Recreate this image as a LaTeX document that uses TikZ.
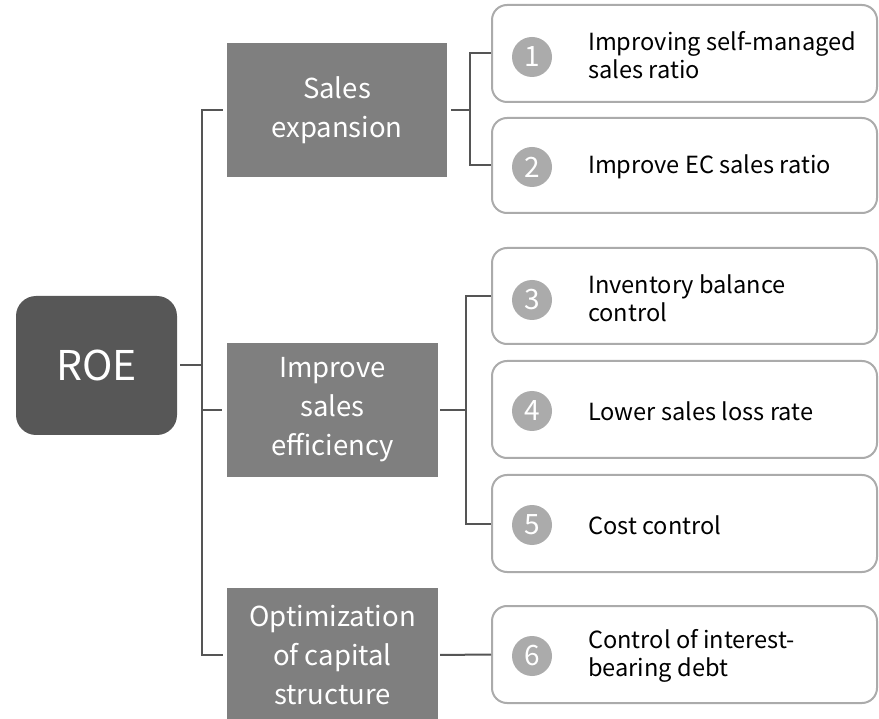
\documentclass[tikz,border=0pt]{standalone}
\usepackage{fontspec}
\setmainfont{Noto Sans CJK JP}
\definecolor{roefill}{HTML}{575757}
\definecolor{midfill}{HTML}{7F7F7F}
\definecolor{linecol}{HTML}{555555}
\definecolor{bordcol}{HTML}{ABABAB}
\definecolor{circfill}{HTML}{ABABAB}
\definecolor{txtcol}{HTML}{000000}
\tikzset{
  roebox/.style={fill=roefill, rounded corners=20pt, minimum width=161pt, minimum height=139pt, text=white, font=\fontsize{41}{43}\selectfont, inner sep=0pt},
  midbox/.style={fill=midfill, minimum width=#1, minimum height=134pt, text=white, align=center, font=\fontsize{27.5}{39}\selectfont, inner sep=0pt},
  itembox/.style={draw=bordcol, line width=2pt, rounded corners=15pt, fill=white, minimum width=385pt, minimum height=#1, inner sep=0pt},
  numcirc/.style={circle, fill=circfill, minimum size=40pt, inner sep=0pt, text=white, font=\fontsize{28}{28}\selectfont},
  itemtext/.style={anchor=west, align=left, text=txtcol, font=\fontsize{23.6}{28}\selectfont, inner sep=0pt},
  conn/.style={draw=linecol, line width=2pt},
}
\begin{document}
\begin{tikzpicture}[x=1pt,y=-1pt]
\useasboundingbox (0,0) rectangle (879,719);
\begin{scope}
\clip (0,0) rectangle (879,719);
% main nodes
\node[roebox] (roe) at (96.5,365.5) {ROE};
\node[midbox=220pt] (sales) at (337,110) {Sales\\expansion};
\node[midbox=211pt] (improve) at (332.5,410) {Improve\\sales\\efficiency};
\node[midbox=211pt] (optim) at (332.5,655) {Optimization\\of capital\\structure};
% item boxes
\node[itembox=97pt] (b1) at (684.5,53.5) {};
\node[itembox=95pt] (b2) at (684.5,165.5) {};
\node[itembox=96pt] (b3) at (684.5,296) {};
\node[itembox=97pt] (b4) at (684.5,409.5) {};
\node[itembox=97pt] (b5) at (684.5,523.5) {};
\node[itembox=97pt] (b6) at (684.5,654.5) {};
% circles
\node[numcirc] (c1) at (532,57) {1};
\node[numcirc] (c2) at (532,167) {2};
\node[numcirc] (c3) at (532,300) {3};
\node[numcirc] (c4) at (532,411) {4};
\node[numcirc] (c5) at (532,525) {5};
\node[numcirc] (c6) at (532,656) {6};
% texts
\node[itemtext] (t1) at (588,55) {Improving self-managed\\sales ratio};
\node[itemtext] (t2) at (588,167) {Improve EC sales ratio};
\node[itemtext] (t3) at (588,298) {Inventory balance\\control};
\node[itemtext] (t4) at (588,411) {Lower sales loss rate};
\node[itemtext] (t5) at (588,525) {Cost control};
\node[itemtext] (t6) at (588,656) {Control of interest-\\bearing debt};
% connectors
\coordinate (tx) at (202,0);
\coordinate (sx) at (470,0);
\coordinate (ix) at (466,0);
\draw[conn, shorten <=3pt] (roe.east) -- (roe.east -| tx);
\draw[conn, line cap=rect] ([xshift=-5pt]sales.west) -- (sales.west -| tx) -- (optim.west -| tx) -- ([xshift=-5pt]optim.west);
\draw[conn] ([xshift=-5pt]improve.west) -- (improve.west -| tx);
\draw[conn, shorten <=4pt] (sales.east) -- (sales.east -| sx);
\draw[conn] (b1.west) -- (b1.west -| sx) -- (b2.west -| sx) -- (b2.west);
\draw[conn, shorten <=2pt] (improve.east) -- (improve.east -| ix);
\draw[conn] (b3.west) -- (b3.west -| ix) -- (b5.west -| ix) -- (b5.west);
\draw[conn, shorten <=2pt] (optim.east) -- (b6.west);
\end{scope}
\end{tikzpicture}
\end{document}
